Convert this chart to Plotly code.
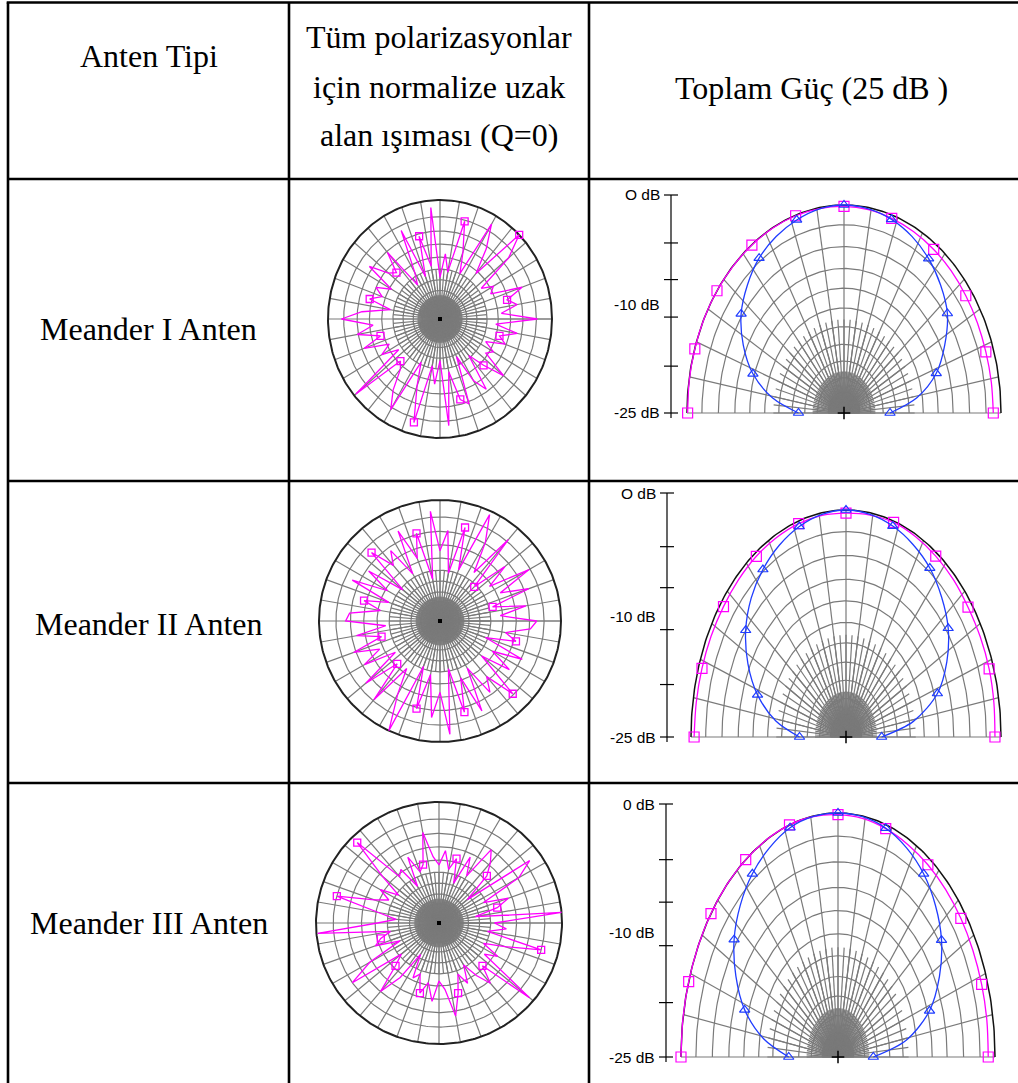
import numpy as np
import plotly.graph_objects as go

W, H = 1018, 1083

# ---------------- text content ----------------
header_col1 = "Anten Tipi"
header_col2 = ["Tüm polarizasyonlar", "için normalize uzak", "alan ışıması (Q=0)"]
header_col3 = "Toplam Güç (25 dB )"
antenna_names = ["Meander I Anten", "Meander II Anten", "Meander III Anten"]
db_tick_labels = [["O dB", "-10 dB", "-25 dB"],
                  ["O dB", "-10 dB", "-25 dB"],
                  ["0 dB", "-10 dB", "-25 dB"]]

# ---------------- far-field (normalized, all polarizations) ----------------
ff_angle_deg = list(range(0, 360, 5))
ff_meander1 = [0.87, 0.55, 0.70, 0.62, 0.78, 0.50, 0.55, 0.45, 0.80, 1.00,
               0.50, 0.72, 0.92, 0.42, 0.60, 0.85, 0.40, 0.55, 0.35, 0.94,
               0.45, 0.72, 0.38, 0.82, 0.45, 0.35, 0.73, 0.55, 0.60, 0.77,
               0.50, 0.63, 0.55, 0.65, 0.45, 0.70, 0.88, 0.60, 0.75, 0.55,
               0.72, 0.50, 0.60, 0.45, 0.98, 0.50, 0.55, 0.73, 0.88, 0.40,
               0.60, 0.90, 0.40, 0.55, 0.35, 0.90, 0.45, 0.70, 0.76, 0.35,
               0.60, 0.72, 0.40, 0.55, 0.74, 0.50, 0.55, 0.45, 0.62, 0.55,
               0.70, 0.50]
ff_meander2 = [0.80, 0.50, 0.72, 0.45, 0.78, 0.55, 0.85, 0.50, 0.70, 0.40,
               0.88, 0.49, 0.75, 0.97, 0.45, 0.80, 0.40, 0.75, 0.58, 0.91,
               0.35, 0.75, 0.55, 0.82, 0.45, 0.71, 0.60, 0.80, 0.40, 0.72,
               0.50, 0.80, 0.45, 0.65, 0.50, 0.75, 0.78, 0.45, 0.70, 0.50,
               0.76, 0.55, 0.72, 0.45, 0.80, 0.50, 0.85, 0.48, 0.70, 1.00,
               0.40, 0.75, 0.45, 0.80, 0.59, 0.94, 0.40, 0.78, 0.50, 0.82,
               0.45, 0.72, 0.60, 0.85, 0.45, 0.70, 0.50, 0.75, 0.40, 0.65,
               0.55, 0.75]
ff_meander3 = [0.45, 1.00, 0.30, 0.49, 0.60, 0.40, 0.75, 0.90, 0.30, 0.55,
               0.65, 0.74, 0.45, 0.60, 0.35, 0.55, 0.45, 0.60, 0.48, 0.55,
               0.76, 0.50, 0.45, 0.60, 0.35, 0.54, 0.50, 0.94, 0.60, 0.40,
               0.55, 0.45, 0.56, 0.86, 0.50, 0.35, 0.50, 0.99, 0.40, 0.49,
               0.55, 0.35, 0.65, 0.86, 0.40, 0.50, 0.74, 0.55, 0.30, 0.50,
               0.45, 0.60, 0.50, 0.65, 0.48, 0.55, 0.78, 0.60, 0.45, 0.55,
               0.40, 0.53, 0.65, 0.50, 0.96, 0.45, 0.55, 0.40, 0.57, 0.86,
               0.40, 0.55]
ff_series = [ff_meander1, ff_meander2, ff_meander3]

# ---------------- total power (theta from broadside, degrees) ----------------
tp_theta_deg = list(range(-90, 91, 9))
tp_blue = [
    [0.29, 0.46, 0.61, 0.72, 0.81, 0.87, 0.92, 0.952, 0.976, 0.994, 1.0,
     0.994, 0.979, 0.953, 0.917, 0.87, 0.814, 0.72, 0.618, 0.47, 0.293],
    [0.30, 0.46, 0.60, 0.71, 0.80, 0.865, 0.912, 0.948, 0.975, 0.993, 1.0,
     0.993, 0.977, 0.952, 0.92, 0.872, 0.815, 0.73, 0.62, 0.44, 0.23],
    [0.314, 0.48, 0.625, 0.73, 0.818, 0.88, 0.928, 0.962, 0.988, 0.998, 1.0,
     0.997, 0.986, 0.962, 0.928, 0.878, 0.815, 0.725, 0.613, 0.44, 0.225],
]
tp_magenta = [
    [0.996, 0.998, 0.999, 1.0, 1.0, 0.999, 0.998, 0.998, 0.997, 0.995, 0.993,
     0.99, 0.984, 0.978, 0.972, 0.966, 0.959, 0.954, 0.95, 0.95, 0.951],
    [0.98, 0.978, 0.977, 0.977, 0.977, 0.98, 0.984, 0.986, 0.988, 0.988, 0.986,
     0.99, 0.994, 0.99, 0.985, 0.98, 0.973, 0.972, 0.971, 0.966, 0.961],
    [1.0, 1.0, 1.0, 1.0, 1.0, 1.0, 1.0, 1.0, 1.0, 0.998, 0.993,
     0.99, 0.984, 0.978, 0.974, 0.97, 0.967, 0.964, 0.962, 0.96, 0.957],
]
tp_tick_frac = [1.0, 0.78, 0.612, 0.44, 0.215, 0.0]

# ---------------- layout geometry (pixels) ----------------
TBL_LEFT, TBL_TOP = 8, 2.5
COL_X = [289, 589]
ROW_Y = [179, 481, 783]
FF_GEOM = [(440, 319, 112, 119), (440, 621, 121, 121), (439, 923, 123, 121)]
TP_GEOM = [dict(cx=844, cy=413, rx=157, ry=208, ax=671, top=195),
           dict(cx=846, cy=737, rx=155, ry=227, ax=667, top=493),
           dict(cx=838, cy=1057, rx=157, ry=244, ax=666, top=804)]
TP_LABEL_DY = [0, -13, 3]

GRID = "#7a7a7a"
MAG = "#ff00ff"
BLUE = "#1f3cff"
FF_RINGS = [0.09, 0.16, 0.24, 0.33, 0.42, 0.52, 0.63, 0.74, 0.86]
TP_RINGS = [0.1, 0.17, 0.25, 0.33, 0.415, 0.505, 0.6, 0.695, 0.8, 0.905]
SERIF = "Liberation Serif, Times New Roman, Times, serif"

fig = go.Figure()
layout = dict(width=W, height=H, margin=dict(l=0, r=0, t=0, b=0),
              paper_bgcolor="white", plot_bgcolor="rgba(0,0,0,0)",
              showlegend=False)


def names(k):
    return ("xaxis" if k == 1 else f"xaxis{k}", "yaxis" if k == 1 else f"yaxis{k}",
            "x" if k == 1 else f"x{k}", "y" if k == 1 else f"y{k}")


def add_axes(k, px0, px1, py0, py1, xr, yr):
    xa, ya, xref, yref = names(k)
    layout[xa] = dict(domain=[px0 / W, px1 / W], range=xr, visible=False,
                      anchor=yref, fixedrange=True)
    layout[ya] = dict(domain=[1 - py1 / H, 1 - py0 / H], range=yr, visible=False,
                      anchor=xref, fixedrange=True)
    return xref, yref


def line_trace(xs, ys, xref, yref, color, width, shape="linear"):
    fig.add_trace(go.Scatter(x=xs, y=ys, xaxis=xref, yaxis=yref, mode="lines",
                             line=dict(color=color, width=width, shape=shape),
                             hoverinfo="skip"))


def grid(xref, yref, a0, a1, rings, step10, fine):
    xs, ys = [], []
    t = np.radians(np.arange(a0, a1 + 0.5, 1.0))
    for r in rings:
        xs += list(r * np.cos(t)) + [None]
        ys += list(r * np.sin(t)) + [None]
    for a in np.arange(a0, a1 + 0.1, step10):
        ar = np.radians(a)
        xs += [0, np.cos(ar), None]
        ys += [0, np.sin(ar), None]
    for (st, rmax) in fine:
        for a in np.arange(a0, a1 + 0.1, st):
            ar = np.radians(a)
            xs += [0, rmax * np.cos(ar), None]
            ys += [0, rmax * np.sin(ar), None]
    line_trace(xs, ys, xref, yref, GRID, 1.2)


k = 1
# ---------------- far-field circles ----------------
for i, (cx, cy, rx, ry) in enumerate(FF_GEOM):
    m = 1.1
    xref, yref = add_axes(k, cx - m * rx, cx + m * rx, cy - m * ry, cy + m * ry,
                          [-m, m], [-m, m])
    k += 1
    grid(xref, yref, 0, 360, FF_RINGS, 10, [(5, 0.42), (2.5, 0.2)])
    t = np.radians(np.arange(0, 361, 1))
    line_trace(list(np.cos(t)), list(np.sin(t)), xref, yref, "#222222", 2)
    a = np.radians(np.array(ff_angle_deg + [ff_angle_deg[0]]))
    r = np.array(ff_series[i] + [ff_series[i][0]])
    fig.add_trace(go.Scatter(x=r * np.cos(a), y=r * np.sin(a), xaxis=xref, yaxis=yref,
                             mode="lines", line=dict(color=MAG, width=1.3),
                             hoverinfo="skip"))
    fig.add_trace(go.Scatter(x=(r * np.cos(a))[3:-1:6], y=(r * np.sin(a))[3:-1:6],
                             xaxis=xref, yaxis=yref, mode="markers",
                             marker=dict(symbol="square-open", size=7, color=MAG,
                                         line=dict(width=1.3)),
                             hoverinfo="skip"))
    fig.add_trace(go.Scatter(x=[0], y=[0], xaxis=xref, yaxis=yref, mode="markers",
                             marker=dict(symbol="square", size=4, color="black"),
                             hoverinfo="skip"))

# ---------------- total power half-patterns ----------------
for i, g in enumerate(TP_GEOM):
    cx, cy, rx, ry = g["cx"], g["cy"], g["rx"], g["ry"]
    px0, px1 = 595, 1017
    py0, py1 = g["top"] - 14, cy + 14
    xref, yref = add_axes(k, px0, px1, py0, py1,
                          [(px0 - cx) / rx, (px1 - cx) / rx],
                          [(cy - py1) / ry, (cy - py0) / ry])
    k += 1
    grid(xref, yref, 0, 180, TP_RINGS, 10, [(5, 0.45), (2.5, 0.2), (1.25, 0.1)])
    t = np.radians(np.arange(0, 181, 1))
    line_trace(list(np.cos(t)), list(np.sin(t)), xref, yref, "#111111", 1.5)
    th = np.radians(np.array(tp_theta_deg))
    for vals, col, sym, sz in [(tp_magenta[i], MAG, "square-open", 10),
                               (tp_blue[i], BLUE, "triangle-up-open", 9)]:
        r = np.array(vals)
        xs, ys = r * np.sin(th), r * np.cos(th)
        fig.add_trace(go.Scatter(x=xs, y=ys, xaxis=xref, yaxis=yref, mode="lines",
                                 line=dict(color=col, width=1.3, shape="spline",
                                           smoothing=0.9),
                                 hoverinfo="skip"))
        fig.add_trace(go.Scatter(x=xs[::2], y=ys[::2], xaxis=xref, yaxis=yref,
                                 mode="markers",
                                 marker=dict(symbol=sym, size=sz, color=col,
                                             line=dict(width=1.2)),
                                 hoverinfo="skip"))
    fig.add_trace(go.Scatter(x=[0], y=[0], xaxis=xref, yaxis=yref, mode="markers",
                             marker=dict(symbol="cross-thin", size=9,
                                         line=dict(color="black", width=1.5)),
                             hoverinfo="skip"))
    # dB axis
    axx = (g["ax"] - cx) / rx
    span = (cy - g["top"]) / ry
    half = 7 / rx
    xs = [axx, axx, None]
    ys = [span, -5 / ry, None]
    for f in tp_tick_frac:
        xs += [axx - half, axx + half, None]
        ys += [f * span, f * span, None]
    line_trace(xs, ys, xref, yref, "black", 1.2)
    lab_fracs = [1.0, 0.44, 0.0]
    anns = layout.setdefault("annotations", [])
    for txt_, f, dy in zip(db_tick_labels[i], lab_fracs, TP_LABEL_DY):
        anns.append(dict(text=txt_, xref=xref, yref=yref, x=axx - 9 / rx,
                         y=f * span - (dy if txt_.startswith("-1") else 0) / ry,
                         xanchor="right", yanchor="middle", showarrow=False,
                         font=dict(family="Liberation Sans, Arial, sans-serif",
                                   size=15.5, color="black")))

# ---------------- table text ----------------
anns = layout.setdefault("annotations", [])
serif = dict(family=SERIF, size=32, color="black")


def txt(s, x, y):
    anns.append(dict(text=s, xref="paper", yref="paper", x=x / W, y=1 - y / H,
                     xanchor="center", yanchor="middle", showarrow=False, font=serif))


txt(header_col1, 148.5, 56)
for s, y in zip(header_col2, [37, 87, 135]):
    txt(s, 439, y)
txt(header_col3, 811, 88)
for s, y in zip(antenna_names, [329, 624, 923]):
    txt(s, 148.5, y)

# ---------------- table lines ----------------
shapes = []


def seg(x0, y0, x1, y1):
    shapes.append(dict(type="line", xref="paper", yref="paper",
                       x0=x0 / W, y0=1 - y0 / H, x1=x1 / W, y1=1 - y1 / H,
                       line=dict(color="black", width=2.6)))


seg(TBL_LEFT - 1.3, TBL_TOP, W, TBL_TOP)
seg(TBL_LEFT, TBL_TOP, TBL_LEFT, H)
for x in COL_X:
    seg(x, TBL_TOP, x, H)
for y in ROW_Y:
    seg(TBL_LEFT, y, W, y)
layout["shapes"] = shapes

fig.update_layout(**layout)
fig.write_html("out.html")
